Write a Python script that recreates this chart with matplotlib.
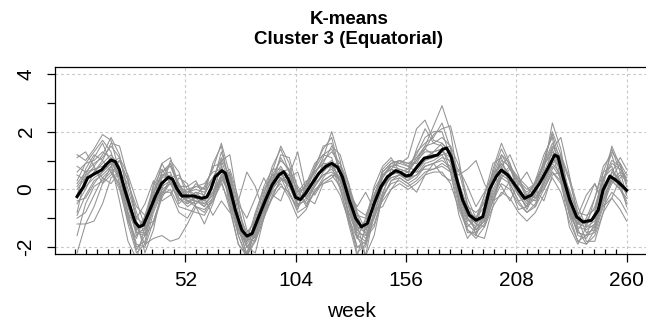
import matplotlib
matplotlib.use("Agg")
import matplotlib.pyplot as plt
from matplotlib.ticker import FixedLocator

plt.rcParams['font.family'] = ['Liberation Sans', 'DejaVu Sans']

# ---- data ----
weeks = [1, 5, 9, 13, 17, 21, 25, 29, 33, 37, 41, 45, 49, 53, 57, 61, 65, 69, 73, 77,
         81, 85, 89, 93, 97, 101, 105, 109, 113, 117, 121, 125, 129, 133, 137, 141, 145,
         149, 153, 157, 161, 165, 169, 173, 177, 181, 185, 189, 193, 197, 201, 205, 209,
         213, 217, 221, 225, 229, 233, 237, 241, 245, 249, 253, 257, 260]

g1 = [0.3, 0.9, 1.3, 1.7, 1.3, 0.2, -1.0, -2.1, -1.6, -0.2, 0.9, 1.1, 0.1, -0.4, -0.5, -0.2, 0.9, 1.5, 0.1, -1.6,
      -2.4, -1.4, -0.2, 0.8, 1.4, 0.6, -0.6, 0.0, 0.8, 1.4, 1.8, 0.6, -1.0, -2.2, -1.9, -0.3, 0.6,
      0.9, 0.8, 0.7, 1.3, 1.6, 1.8, 2.3, 1.4, -0.4, -1.4, -1.6, -0.9, 0.6, 1.4, 0.8, -0.2,
      -0.6, 0.1, 1.0, 2.0, 1.2, -0.6, -1.6, -1.7, -1.2, 0.3, 1.3, 0.9, 0.2]
g2 = [-2.2, -1.2, -0.6, 0.2, 0.8, 1.0, 0.3, -0.8, -1.6, -1.2, -0.3, 0.3, 0.2, -0.4, -0.6, -0.7, -0.4, 0.3, 0.5, -0.6,
      -1.7, -1.8, -1.0, -0.2, 0.3, 0.5, 0.0, -0.5, -0.1, 0.4, 0.8, 0.8, 0.1, -0.9, -1.6, -1.2, -0.3,
      0.3, 0.5, 0.4, 0.5, 0.9, 1.0, 1.2, 1.3, 0.6, -0.5, -1.2, -1.3, -0.4, 0.4, 0.7, 0.3,
      -0.3, -0.4, 0.1, 0.7, 1.1, 0.3, -0.8, -1.5, -1.4, -0.5, 0.2, 0.5, 0.3]
g3 = [-1.2, -1.2, -1.1, -0.5, 0.4, 0.6, -0.2, -1.3, -1.9, -1.7, -1.6, -1.8, -1.7, -1.2, -0.6, -0.8, -0.3, 0.4, -0.2, -1.2,
      -1.9, -1.4, -0.7, 0.0, 0.4, 0.2, -0.5, -0.4, 0.1, 0.5, 0.6, 0.3, -0.6, -1.5, -1.6, -0.9, 0.1,
      0.4, 0.5, 0.3, 0.5, 0.8, 0.9, 1.0, 0.8, -0.1, -1.0, -1.4, -1.1, -0.2, 0.4, 0.2, -0.4,
      -0.8, -0.5, 0.2, 0.8, 0.4, -0.7, -1.5, -1.6, -1.3, -0.3, 0.3, 0.0, -0.4]
g4 = [0.8, 0.6, 0.7, 0.4, 0.2, 0.6, 0.2, -0.6, -0.9, -0.5, -0.1, 0.2, 0.1, 0.1, 0.3, -0.3, -0.9, -0.4, -0.8, -0.4,
      0.6, 0.1, -0.8, -0.3, 0.4, 0.1, -0.1, 0.3, -0.2, 0.3, 0.5, 0.4, 0.0, -0.7, -0.9, -0.2, 0.4,
      0.9, 1.0, 0.8, 0.6, 0.7, 0.7, 0.8, 0.6, 0.5, 0.7, 1.0, 0.2, -0.4, -0.2, 0.3, 0.4,
      0.1, -0.3, 0.0, 0.6, 0.2, -0.8, -1.2, -0.5, 0.2, -0.6, -0.3, 0.4, 0.6]
g5 = [0.2, 0.6, 0.9, 1.1, 1.5, 1.1, 0.0, -1.0, -1.2, -0.2, 0.6, 0.8, 0.1, -0.1, 0.0, -0.1, 0.3, 1.1, 0.4, -0.8,
      -1.5, -1.1, -0.3, 0.5, 1.0, 0.7, -0.1, 0.1, 0.6, 1.0, 1.3, 0.9, -0.1, -0.9, -1.0, -0.2, 0.6,
      0.9, 1.0, 0.9, 1.1, 1.5, 1.6, 1.8, 1.5, 0.2, -0.6, -0.8, -0.5, 0.4, 1.0, 0.8, 0.3,
      0.0, 0.2, 0.8, 1.5, 1.0, -0.1, -0.8, -0.9, -0.7, 0.3, 0.9, 0.7, 0.4]
g6 = [-0.8, 0.5, 1.1, 1.6, 0.9, -0.4, -1.8, -2.4, -1.3, 0.2, 0.9, 0.3, -0.5, -0.2, 0.2, 0.0, 0.8, 0.9, -0.6, -1.9,
      -2.3, -0.9, 0.1, 0.7, 0.7, -0.1, -0.7, 0.2, 0.9, 1.2, 1.1, 0.1, -1.2, -2.3, -1.3, 0.1, 0.8,
      1.1, 0.6, 0.5, 1.4, 2.1, 1.6, 1.5, 0.6, -0.9, -1.7, -1.3, -0.2, 0.9, 1.1, 0.1, -0.7,
      -0.6, 0.3, 1.2, 1.8, 0.3, -1.3, -1.9, -1.3, -0.3, 0.8, 1.2, 0.2, -0.6]
g7 = [-1.6, -0.5, 0.1, 0.3, 0.6, 0.2, -0.8, -1.9, -2.0, -1.1, -0.2, 0.0, -0.6, -0.7, -0.8, -0.9, -0.4, 0.2, -0.5, -1.6,
      -2.3, -1.8, -1.0, -0.3, 0.1, -0.1, -0.8, -0.6, -0.1, 0.3, 0.5, 0.1, -0.8, -1.6, -1.8, -1.0, -0.2,
      0.2, 0.3, 0.1, 0.3, 0.6, 0.7, 0.9, 0.7, -0.4, -1.2, -1.5, -1.2, -0.4, 0.2, 0.0, -0.5,
      -0.8, -0.6, 0.0, 0.6, 0.3, -0.8, -1.5, -1.6, -1.5, -0.6, -0.1, -0.4, -0.8]
g8 = [0.0, 0.4, 0.8, 1.2, 1.8, 1.2, -0.2, -1.5, -1.5, -0.6, 0.4, 0.9, 0.2, -0.3, -0.1, -0.4, 0.2, 1.3, 0.3, -1.3,
      -2.0, -1.6, -0.7, 0.3, 1.1, 0.6, -0.4, -0.2, 0.5, 1.1, 2.0, 1.0, -0.6, -1.7, -1.9, -0.7, 0.4,
      0.8, 0.7, 0.6, 1.0, 1.5, 2.2, 2.9, 2.0, 0.1, -1.0, -1.4, -1.1, 0.2, 1.2, 0.9, 0.1,
      -0.4, 0.0, 0.7, 2.3, 1.4, -0.4, -1.4, -1.9, -1.4, 0.1, 1.5, 0.8, 0.1]
g9 = [-0.4, -0.3, 0.2, 0.6, 0.9, 1.1, 0.5, -0.4, -1.3, -1.1, -0.2, 0.4, 0.5, 0.0, -0.2, -0.5, -0.2, 0.5, 0.7, -0.3,
      -1.4, -1.7, -0.9, 0.0, 0.6, 0.7, 0.1, -0.3, 0.1, 0.6, 0.9, 0.9, 0.2, -0.8, -1.4, -1.0, -0.1,
      0.5, 0.7, 0.6, 0.6, 1.0, 1.3, 1.4, 1.5, 0.8, -0.3, -1.0, -1.1, -0.3, 0.5, 0.8, 0.4,
      -0.2, -0.3, 0.2, 0.9, 1.2, 0.4, -0.6, -1.3, -1.3, -0.4, 0.3, 0.6, 0.4]
g10 = [0.5, 0.3, 0.6, 0.9, 1.2, 0.8, -0.5, -1.6, -1.3, -0.3, 0.4, 0.5, -0.3, -0.5, -0.3, -0.6, -0.1, 0.8, -0.1, -1.4,
       -2.2, -1.5, -0.6, 0.3, 0.7, 0.5, 1.3, -0.1, 0.3, 0.8, 1.0, 0.6, -0.5, -1.6, -2.3, -0.8, 0.1,
       0.4, 0.5, 0.3, 0.7, 1.1, 1.3, 1.6, 1.3, 0.0, -0.9, -1.2, -0.9, 0.3, 0.9, 0.5, -0.1,
       -0.5, -0.2, 0.6, 1.3, 0.9, -0.5, -1.2, -1.3, -1.1, -0.1, 0.6, 0.3, -0.2]
g11 = [1.1, 1.3, 0.8, 0.2, 0.5, 1.0, 0.3, -1.0, -0.5, 0.3, -0.4, -0.2, 0.4, 0.2, -0.6, -1.2, -0.5, 0.4, 0.6, -0.5,
       -1.0, -0.3, 0.4, -0.2, -0.4, 0.4, 0.6, -0.3, -0.5, 0.2, 0.4, 0.7, -0.1, -0.6, -0.1, -0.7, -0.6,
       0.0, 0.4, 0.2, -0.1, 0.5, 0.9, 0.5, 0.3, 0.7, 0.1, -0.6, -0.1, 0.5, 0.1, -0.4, 0.2,
       0.6, 0.0, -0.4, 0.5, 0.6, 0.0, -0.9, -0.2, 0.2, -0.4, 0.4, 0.9, 0.5]
g12 = [-0.2, 0.7, 1.2, 1.0, 0.6, 0.0, -1.1, -1.7, -0.9, 0.1, 0.7, 0.2, -0.4, -0.1, 0.1, 0.2, 0.6, 0.7, -0.4, -1.5,
       -1.8, -0.8, 0.0, 0.5, 0.4, -0.2, -0.6, 0.1, 0.6, 0.9, 0.8, 0.0, -1.0, -1.7, -1.0, 0.0, 0.5,
       0.7, 0.5, 0.6, 1.1, 1.4, 1.2, 1.2, 0.6, -0.6, -1.3, -1.0, -0.2, 0.6, 0.8, 0.2, -0.4,
       -0.3, 0.3, 0.9, 1.2, 0.3, -0.9, -1.4, -1.0, -0.3, 0.6, 0.8, 0.0, -0.5]
g13 = [0.6, 0.9, 1.0, 1.3, 1.1, 0.5, -0.6, -1.4, -1.0, -0.1, 0.5, 0.6, -0.2, -0.3, -0.1, -0.2, 0.4, 1.0, 0.2, -1.1,
       -1.8, -1.2, -0.4, 0.4, 0.8, 0.3, -0.2, 0.2, 0.7, 1.2, 1.4, 0.7, -0.3, -1.3, -1.5, -0.5, 0.5,
       0.8, 0.9, 1.1, 2.1, 2.4, 1.7, 1.6, 1.2, 0.1, -0.7, -1.0, -0.6, 0.5, 1.2, 0.7, 0.2,
       -0.1, 0.2, 0.9, 1.6, 1.1, -0.2, -1.0, -1.2, -0.9, 0.4, 1.0, 0.8, 0.3]
g14 = [-0.9, -0.2, 0.3, 0.5, 0.8, 0.4, -0.5, -1.5, -1.6, -0.7, 0.0, 0.2, -0.3, -0.6, -0.4, -0.5, -0.2, 0.5, -0.2, -1.3,
       -2.0, -1.6, -0.8, 0.0, 0.4, 0.1, -0.6, -0.3, 0.2, 0.5, 0.7, 0.3, -0.5, -1.4, -1.7, -1.3, -0.3,
       0.3, 0.4, 0.2, 0.4, 0.8, 0.9, 1.1, 1.0, -0.2, -1.0, -1.3, -1.0, -0.1, 0.5, 0.3, -0.2,
       -0.6, -0.3, 0.3, 0.9, 0.5, -0.6, -1.3, -1.4, -1.2, -0.2, 0.3, 0.0, -0.3]
g15 = [-0.5, 0.0, 0.6, 1.0, 1.6, 1.5, 0.4, -1.1, -2.2, -1.4, 0.0, 1.0, 0.6, -0.3, -0.4, -0.6, -0.3, 1.0, 1.2, -0.5,
       -2.0, -2.2, -1.0, 0.2, 1.2, 1.1, 0.0, -0.6, 0.2, 0.9, 1.5, 1.2, 0.2, -1.2, -2.3, -1.6, -0.2,
       0.7, 1.0, 0.9, 0.9, 1.4, 1.9, 2.1, 2.2, 1.0, -0.6, -1.6, -1.7, -0.6, 0.8, 1.2, 0.5,
       -0.4, -0.6, 0.3, 1.4, 1.8, 0.5, -1.0, -1.8, -1.8, -0.8, 0.6, 1.1, 0.7]
g16 = [-0.3, 0.1, 0.4, 0.6, 0.9, 0.5, -0.6, -1.5, -1.4, -0.6, 0.1, 0.3, -0.2, -0.4, -0.3, -0.4, -0.1, 0.5, -0.2, -1.2,
       -1.8, -1.4, -0.6, 0.1, 0.5, 0.2, -0.4, -0.2, 0.3, 0.7, 0.8, 0.4, -0.5, -1.3, -1.4, -0.6, 0.1,
       0.5, 0.6, 0.4, 0.7, 1.0, 1.1, 1.3, 1.1, -0.1, -0.9, -1.1, -0.9, 0.0, 0.6, 0.4, -0.1,
       -0.4, -0.1, 0.5, 1.1, 0.7, -0.4, -1.1, -1.2, -1.0, -0.1, 0.4, 0.1, -0.1]
g17 = [1.2, 1.0, 1.4, 1.9, 1.7, 0.6, -0.9, -2.0, -1.8, -0.5, 0.6, 0.9, 0.0, -0.5, -0.2, 0.1, 0.7, 1.6, 0.5, -1.2,
       -2.3, -1.7, -0.4, 0.6, 1.5, 0.9, -0.3, -0.1, 0.7, 1.5, 1.6, 0.5, -0.9, -2.0, -1.8, -0.4, 0.7,
       1.0, 0.9, 0.8, 1.2, 1.8, 2.0, 2.0, 1.1, -0.5, -1.5, -1.5, -0.7, 0.7, 1.6, 0.9, -0.1,
       -0.7, -0.1, 1.0, 1.9, 0.9, -0.9, -1.8, -1.6, -0.8, 0.6, 1.4, 0.6, -0.2]
g18 = [-1.0, -0.8, -0.2, 0.4, 0.7, 0.1, -1.2, -2.2, -1.9, -0.8, -0.1, -0.1, -0.8, -1.0, -0.5, -0.3, -0.1, 0.3, -0.7, -1.9,
       -2.3, -1.3, -0.5, -0.1, 0.2, -0.3, -1.0, -0.7, 0.0, 0.2, 0.3, -0.2, -1.1, -2.0, -2.0, -0.9, -0.4,
       0.0, 0.2, 0.0, 0.2, 0.5, 0.6, 0.6, 0.2, -0.7, -1.4, -1.7, -1.3, -0.6, -0.1, -0.3, -0.8,
       -1.1, -0.8, -0.2, 0.4, -0.1, -1.1, -1.8, -1.9, -1.6, -0.8, -0.3, -0.7, -1.1]
g19 = [0.1, 0.5, 0.7, 0.8, 1.0, 0.4, -0.8, -1.4, -1.0, 0.0, 0.5, 0.4, -0.2, 0.0, 0.1, 0.0, 0.4, 0.7, -0.3, -1.3,
       -1.6, -1.0, -0.1, 0.5, 0.6, 0.1, -0.3, 0.2, 0.6, 0.9, 0.9, 0.3, -0.8, -1.4, -1.1, -0.2, 0.5,
       0.7, 0.6, 0.7, 1.0, 1.3, 1.3, 1.4, 0.9, -0.3, -1.1, -1.0, -0.4, 0.5, 0.9, 0.4, -0.2,
       -0.2, 0.2, 0.8, 1.4, 0.6, -0.6, -1.2, -1.1, -0.6, 0.4, 0.7, 0.3, -0.1]
member_series = [g1, g2, g3, g4, g5, g6, g7, g8, g9, g10, g11, g12, g13, g14,
                 g15, g16, g17, g18, g19]

mean_weeks = [1, 4, 6, 9, 12.5, 15, 17, 19, 21, 23.5, 26, 28.3, 30.2, 32.2, 34.6, 37.8, 40.9,
              44.1, 46, 48, 50.4, 52.7, 55.9, 59.8, 62.2, 64, 66.1, 69.3, 70.9, 73.2, 75.6,
              78.7, 81.1, 83.5, 86.6, 89.8, 92.9, 96.1, 98.4, 100.8, 104, 106.3, 108.7, 111.8,
              115, 118.2, 121, 123.7, 126, 129.2, 132.3, 135, 137.8, 141, 144.2, 147.3, 151.2,
              153.6, 156, 158.3, 161.5, 164.6, 167.8, 170.9, 173.3, 175.2, 177.3, 179.6, 182.7,
              185.9, 189, 192.2, 195.4, 198.5, 200.9, 204, 208, 211.9, 215.1, 219, 222.9, 226.1,
              227.7, 230, 233.2, 236.4, 239.5, 243.5, 246.6, 248.9, 252.1, 255.3, 258.4, 260]
mean_vals = [-0.25, 0.09, 0.40, 0.53, 0.67, 0.88, 1.02, 0.96, 0.67, -0.02, -0.6, -1.13, -1.3,
             -1.24, -0.84, -0.26, 0.21, 0.42, 0.35, 0.03, -0.23, -0.23, -0.23, -0.31, -0.26, 0.0,
             0.44, 0.65, 0.56, -0.02, -0.72, -1.42, -1.62, -1.53, -0.95, -0.37, 0.15, 0.5, 0.61,
             0.32, -0.28, -0.35, -0.14, 0.21, 0.56, 0.79, 0.9, 0.77, 0.44, -0.35, -1.0, -1.3,
             -1.18, -0.49, 0.09, 0.44, 0.65, 0.58, 0.46, 0.5, 0.81, 1.08, 1.13, 1.19, 1.39, 1.43,
             1.13, 0.44, -0.37, -0.89, -1.07, -0.95, 0.0, 0.44, 0.67, 0.5, 0.09, -0.31, -0.2, 0.21,
             0.73, 1.19, 1.13, 0.44, -0.37, -0.95, -1.13, -1.07, -0.72, -0.02, 0.46, 0.3, 0.09, -0.03]

x_major = [52, 104, 156, 208, 260]
y_ticks = [-2, -1, 0, 1, 2, 3, 4]
y_labels = ['-2', '', '0', '', '2', '', '4']
grid_y = [-2, 0, 2, 4]
title = "K-means\nCluster 3 (Equatorial)"
xlabel = "week"

for s in member_series:
    assert len(s) == len(weeks), len(s)
assert len(mean_weeks) == len(mean_vals), (len(mean_weeks), len(mean_vals))

# ---- figure ----
W, H = 646, 326
fig = plt.figure(figsize=(W / 100, H / 100), dpi=100)
left, right, bottom, top = 55, 648.7, 254, 67
ax = fig.add_axes([left / W, (H - bottom) / H, (right - left) / W, (bottom - top) / H])
ax.set_xlim(-9.4, 270.4)
ax.set_ylim(-2.24, 4.24)

for gy in grid_y:
    ax.axhline(gy, color='#c8c8c8', lw=0.8, ls=(0, (2.5, 2.5)), zorder=0)
for gx in x_major:
    ax.axvline(gx, color='#c8c8c8', lw=0.8, ls=(0, (2.5, 2.5)), zorder=0)

for s in member_series:
    ax.plot(weeks, s, color='#939393', lw=0.75, zorder=2)
ax.plot(mean_weeks, mean_vals, color='black', lw=2.2, zorder=3, solid_joinstyle='round')

for sp in ax.spines.values():
    sp.set_linewidth(0.9)
    sp.set_color('black')

ax.set_xticks(x_major)
ax.set_xticklabels([str(v) for v in x_major])
ax.xaxis.set_minor_locator(FixedLocator([52 / 10 * i for i in range(51)]))
ax.tick_params(axis='x', which='major', direction='out', length=6, width=0.9,
               labelsize=15, pad=6, colors='black')
ax.tick_params(axis='x', which='minor', direction='in', length=3.8, width=0.9)
ax.set_yticks(y_ticks)
ax.set_yticklabels(y_labels)
ax.tick_params(axis='y', direction='out', length=6, width=0.9, labelsize=15, pad=8)
for lab in ax.get_yticklabels():
    lab.set_rotation(90)
    lab.set_va('center')

ax.set_xlabel(xlabel, fontsize=15, labelpad=9)
fig.text(349 / W, 1 - 20 / H, title.split("\n")[0], ha='center', va='center',
         fontsize=13.5, fontweight='bold')
fig.text(349 / W, 1 - 40 / H, title.split("\n")[1], ha='center', va='center',
         fontsize=13.5, fontweight='bold')

fig.savefig("out.png", dpi=100)
